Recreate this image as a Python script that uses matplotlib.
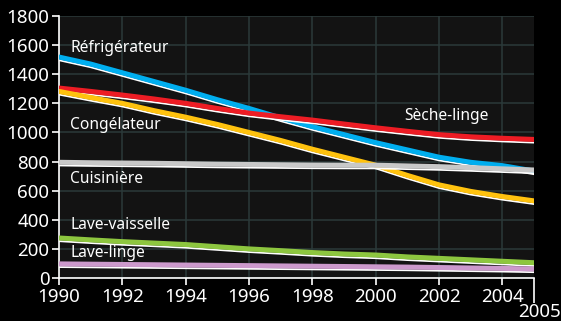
import numpy as np
import matplotlib
matplotlib.use("Agg")
import matplotlib.pyplot as plt
import matplotlib.patheffects as pe
from matplotlib.transforms import ScaledTranslation

plt.rcParams['font.family'] = ['Noto Sans', 'DejaVu Sans']

years = [1990, 1991, 1992, 1993, 1994, 1995, 1996, 1997, 1998, 1999, 2000, 2001, 2002, 2003, 2004, 2005]

# kWh per appliance
refrigerateur = [1518, 1470, 1410, 1350, 1290, 1225, 1165, 1100, 1040, 985, 930, 880, 830, 795, 772, 735]
seche_linge = [1305, 1282, 1257, 1230, 1200, 1165, 1133, 1108, 1085, 1058, 1032, 1008, 985, 970, 960, 952]
congelateur = [1282, 1240, 1200, 1150, 1105, 1055, 1000, 945, 885, 830, 775, 705, 640, 595, 560, 530]
cuisiniere = [795, 792, 790, 788, 785, 782, 780, 778, 776, 775, 775, 770, 765, 758, 750, 742]
lave_vaisselle = [275, 262, 250, 240, 230, 215, 200, 188, 175, 165, 158, 145, 135, 125, 115, 105]
lave_linge = [97, 95, 93, 91, 89, 87, 85, 83, 81, 79, 77, 75, 72, 69, 66, 62]

series = [
    ("Réfrigérateur", refrigerateur, "#00aeef"),
    ("Sèche-linge", seche_linge, "#ed1c24"),
    ("Congélateur", congelateur, "#ffc20e"),
    ("Cuisinière", cuisiniere, "#c8c8c8"),
    ("Lave-vaisselle", lave_vaisselle, "#8dc63f"),
    ("Lave-linge", lave_linge, "#cc99cc"),
]

# label anchors (year, value), left aligned
labels = {
    "Réfrigérateur": (1990.35, 1580),
    "Congélateur": (1990.35, 1050),
    "Cuisinière": (1990.35, 680),
    "Lave-vaisselle": (1990.35, 364),
    "Lave-linge": (1990.35, 172),
    "Sèche-linge": (2000.9, 1115),
}

fig = plt.figure(figsize=(5.61, 3.21), dpi=100, facecolor="black")
ax = fig.add_axes([59 / 561, 1 - 278 / 321, 475 / 561, 262 / 321])
ax.set_facecolor("#131313")

for name, vals, col in series:
    ax.plot(years, vals, color=col, lw=3.6, solid_capstyle="round", zorder=3,
            path_effects=[pe.Stroke(linewidth=1.3, foreground="white", offset=(0, -2.3)),
                          pe.Normal()])

for name, (x, y) in labels.items():
    ax.text(x, y, name, color="white", fontsize=11.2, ha="left", va="center", zorder=5)

ax.set_xlim(1990, 2005)
ax.set_ylim(0, 1800)
ax.set_xticks(range(1990, 2005, 2))
ax.set_yticks(range(0, 1801, 200))
ax.set_xticks([2005], labels=["2005"], minor=True)
ax.grid(True, color="#2b3a3a", lw=1.1, zorder=1)

for s in ["top", "right"]:
    ax.spines[s].set_visible(False)
for s in ["left", "bottom"]:
    ax.spines[s].set_color("white")
    ax.spines[s].set_linewidth(1.2)

ax.tick_params(which="major", colors="white", labelsize=13.5, length=5, width=1.2, pad=2)
ax.tick_params(axis="x", which="minor", colors="white", labelsize=13.5, length=18, width=1.2, pad=0)
lab = ax.xaxis.get_minor_ticks()[0].label1
lab.set_transform(lab.get_transform() + ScaledTranslation(4.3 / 72, 0, fig.dpi_scale_trans))

fig.savefig("out.png", dpi=100, facecolor="black")
